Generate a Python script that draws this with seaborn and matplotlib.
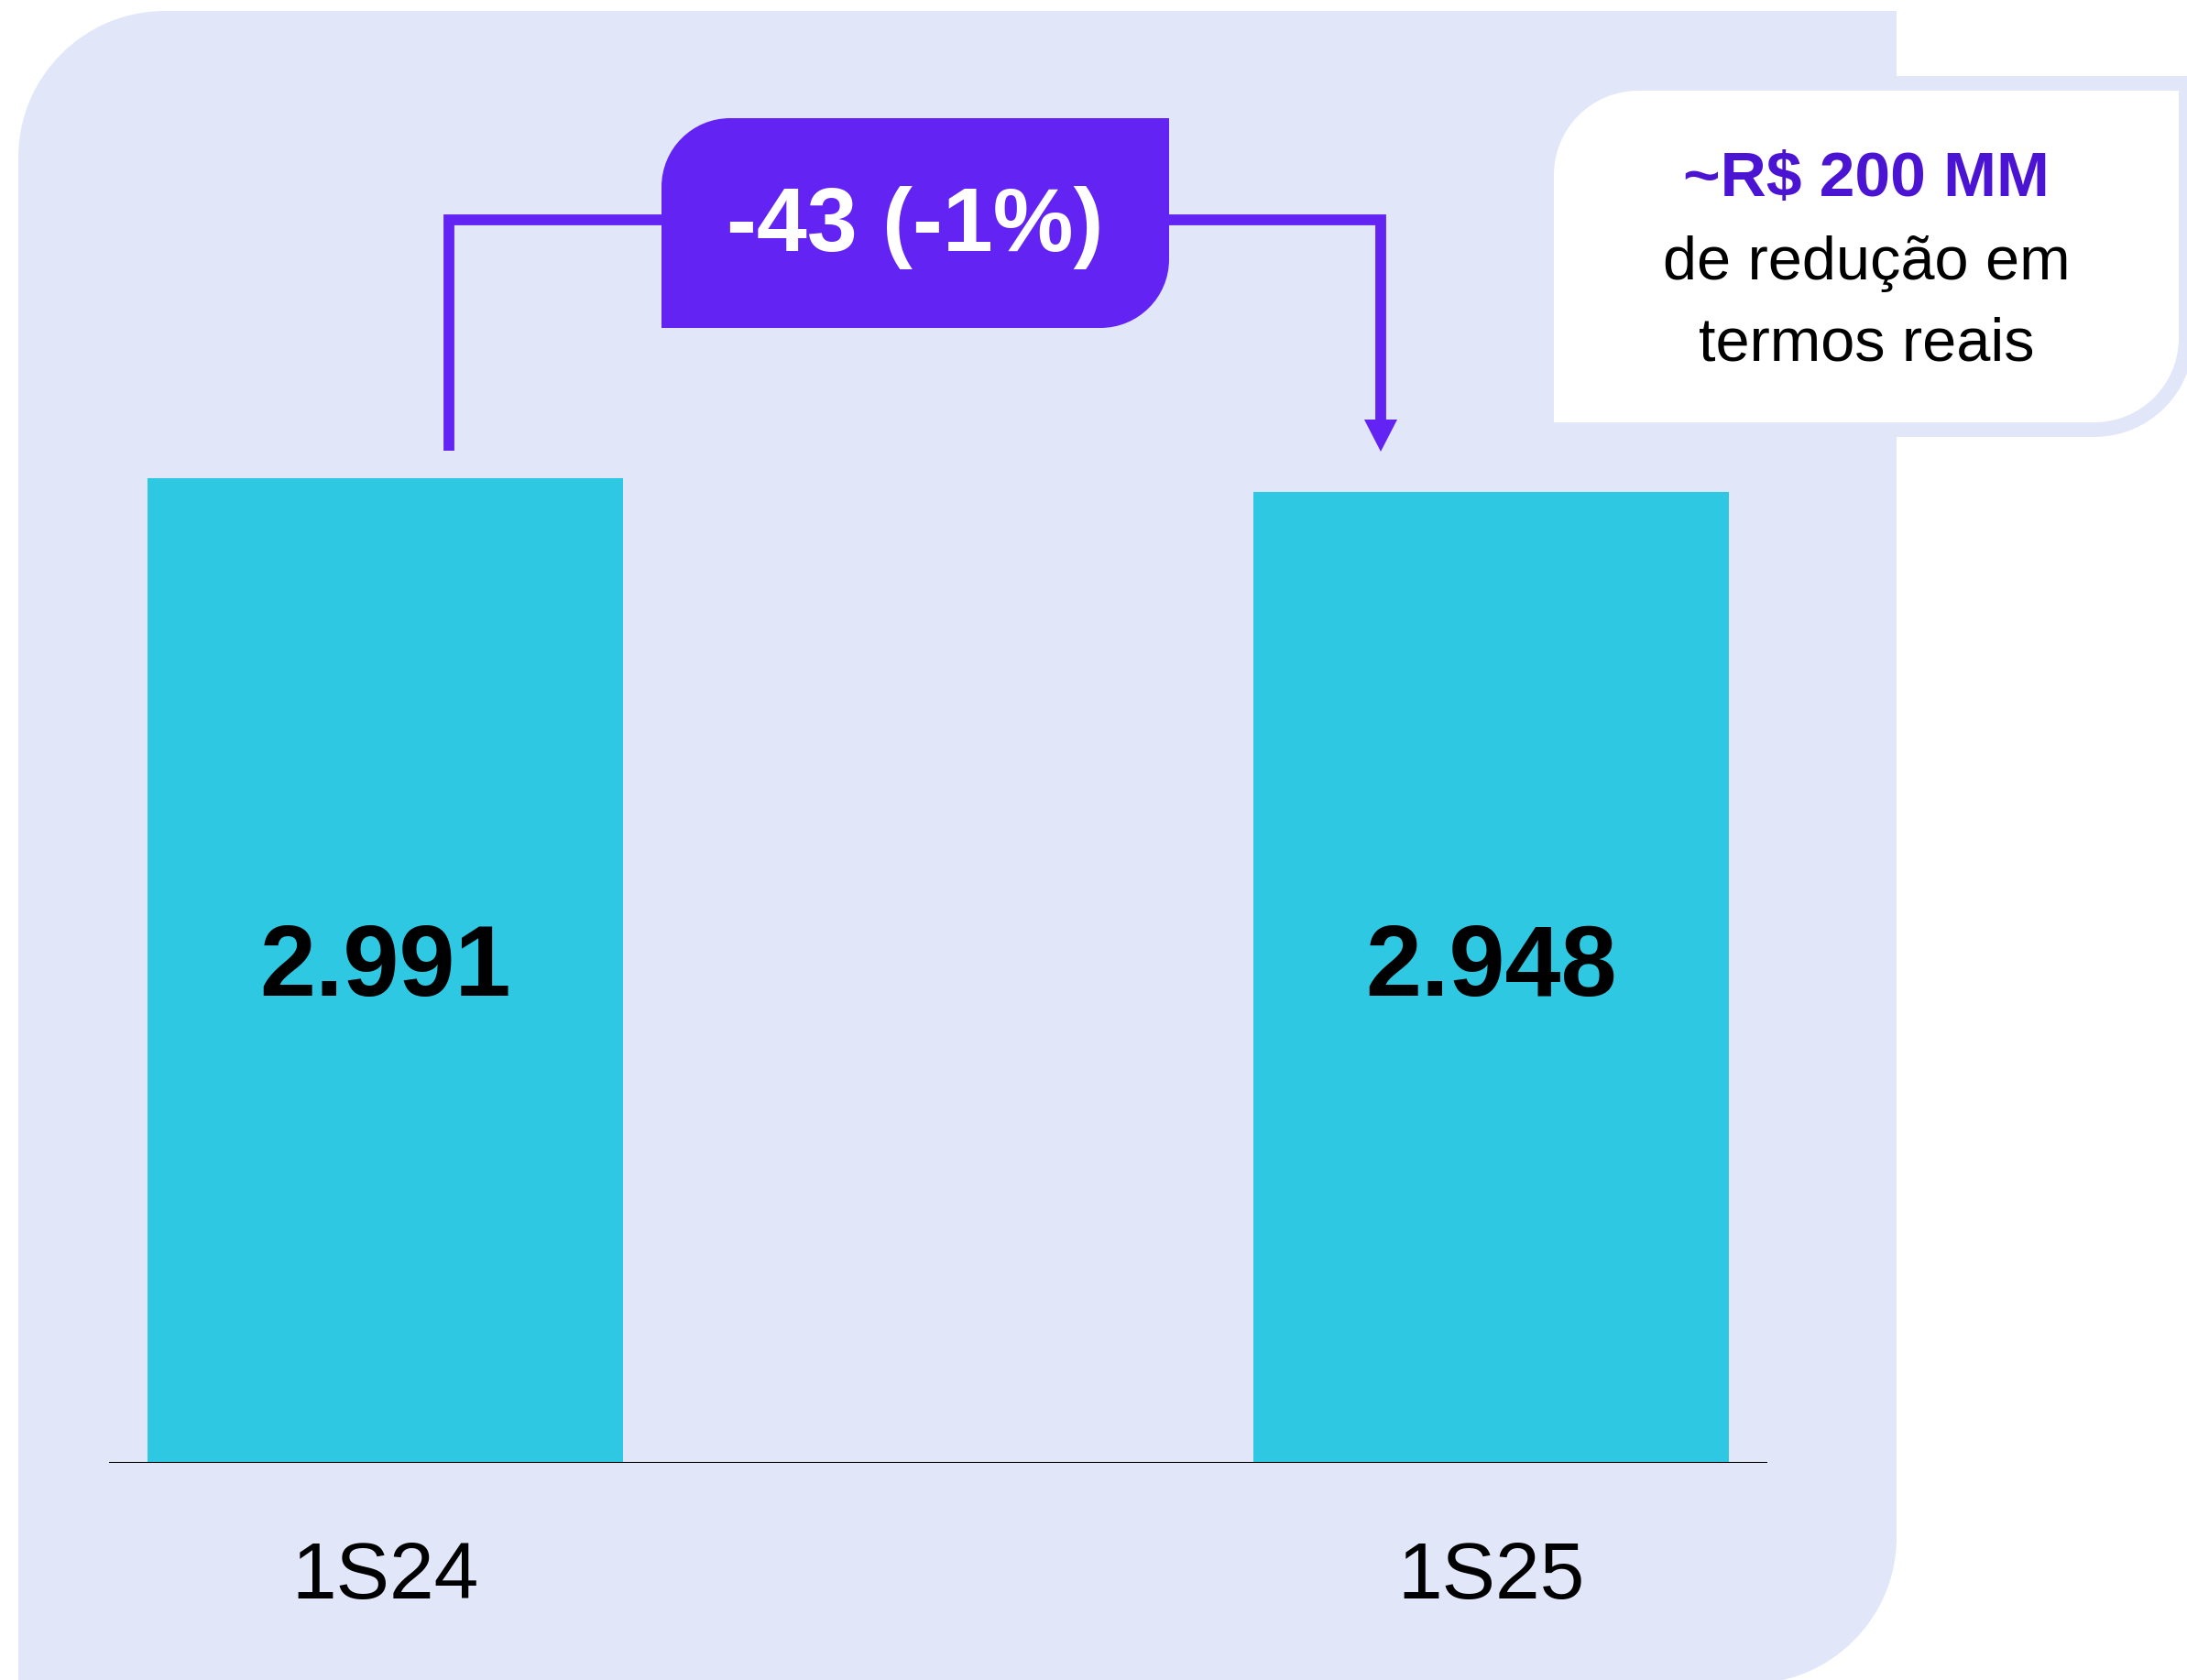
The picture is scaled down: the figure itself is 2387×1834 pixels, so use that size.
import numpy as np
import seaborn as sns
import matplotlib.pyplot as plt
from matplotlib.path import Path
from matplotlib.patches import PathPatch, Polygon

# data
periods = ['1S24', '1S25']
values = [2991, 2948]
note_title = '~R$ 200 MM'
note_lines = ['de redução em', 'termos reais']

# colours
PANEL = '#E1E7F8'
BAR = '#2EC8E2'
BADGE = '#6223F3'
NOTE_PURPLE = '#4B14D3'

W, H, DPI = 2387, 1834, 100

sns.set_style('white')
plt.rcParams['font.family'] = ['Liberation Sans', 'DejaVu Sans']

fig = plt.figure(figsize=(W / DPI, H / DPI), dpi=DPI)
fig.patch.set_facecolor('white')


def corner_box(x0, y0, x1, y1, r):
    # rect in pixel coords (y down) with rounded top-left and bottom-right corners
    k = 0.5523
    verts = [
        (x0, y0 + r),
        (x0, y0 + r - k * r), (x0 + r - k * r, y0), (x0 + r, y0),
        (x1, y0),
        (x1, y1 - r),
        (x1, y1 - r + k * r), (x1 - r + k * r, y1), (x1 - r, y1),
        (x0, y1),
        (x0, y0 + r),
    ]
    codes = [Path.MOVETO, Path.CURVE4, Path.CURVE4, Path.CURVE4, Path.LINETO, Path.LINETO,
             Path.CURVE4, Path.CURVE4, Path.CURVE4, Path.LINETO, Path.CLOSEPOLY]
    return Path(verts, codes)


# ---------- background layer (pixel coords) ----------
bg = fig.add_axes([0, 0, 1, 1], zorder=0)
bg.set_xlim(0, W)
bg.set_ylim(H, 0)
bg.axis('off')

bg.add_patch(PathPatch(corner_box(20, 12, 2070, 1838, 160), facecolor=PANEL, edgecolor='none'))

# note box top right
bg.add_patch(PathPatch(corner_box(1688, 91, 2386, 469, 100), facecolor='white',
                       edgecolor=PANEL, linewidth=11.5))
bg.text(2037, 196, note_title, color=NOTE_PURPLE, fontsize=50, fontweight='bold',
        ha='center', va='center')
bg.text(2037, 288, note_lines[0], color='black', fontsize=48, ha='center', va='center')
bg.text(2037, 376, note_lines[1], color='black', fontsize=48, ha='center', va='center')

# variation badge + bracket
diff = values[1] - values[0]
pct = round(diff / values[0] * 100)
badge_label = f'{diff} ({pct}%)'

line_kw = dict(color=BADGE, linewidth=8.5, solid_capstyle='butt', solid_joinstyle='miter')
bg.plot([490, 490, 722], [492, 240, 240], **line_kw)
bg.plot([1276, 1507, 1507], [240, 240, 462], **line_kw)
bg.add_patch(Polygon([(1489, 458), (1525, 458), (1507, 493)], closed=True,
                     facecolor=BADGE, edgecolor='none'))
bg.add_patch(PathPatch(corner_box(722, 129, 1276, 358, 75), facecolor=BADGE, edgecolor='none'))
bg.text(999, 248, badge_label, color='white', fontsize=71, fontweight='bold',
        ha='center', va='center')

# ---------- bar chart ----------
ymax = 4200
px_per_unit = 1075 / 2991
ax_h = ymax * px_per_unit
ax = fig.add_axes([119 / W, (H - 1597) / H, (1929 - 119) / W, ax_h / H], zorder=1)
ax.patch.set_alpha(0)

sns.barplot(x=periods, y=values, color=BAR, saturation=1, width=0.4306,
            linewidth=0, edgecolor='none', ax=ax)
ax.set_xlim(-0.25, 1.25)
ax.set_ylim(0, ymax)
ax.axhline(0, color='black', linewidth=2.2)
sns.despine(ax=ax, left=True, bottom=True)
ax.set_yticks([])
ax.set_ylabel('')
ax.set_xlabel('')
ax.tick_params(axis='x', length=0, pad=61, labelsize=63, labelcolor='black')

label_y = max(values) / 2
for i, v in enumerate(values):
    ax.text(i, label_y, f'{v:,}'.replace(',', '.'), ha='center', va='center',
            fontsize=79, fontweight='bold', color='black')

fig.savefig('out.png', dpi=DPI, facecolor='white')
